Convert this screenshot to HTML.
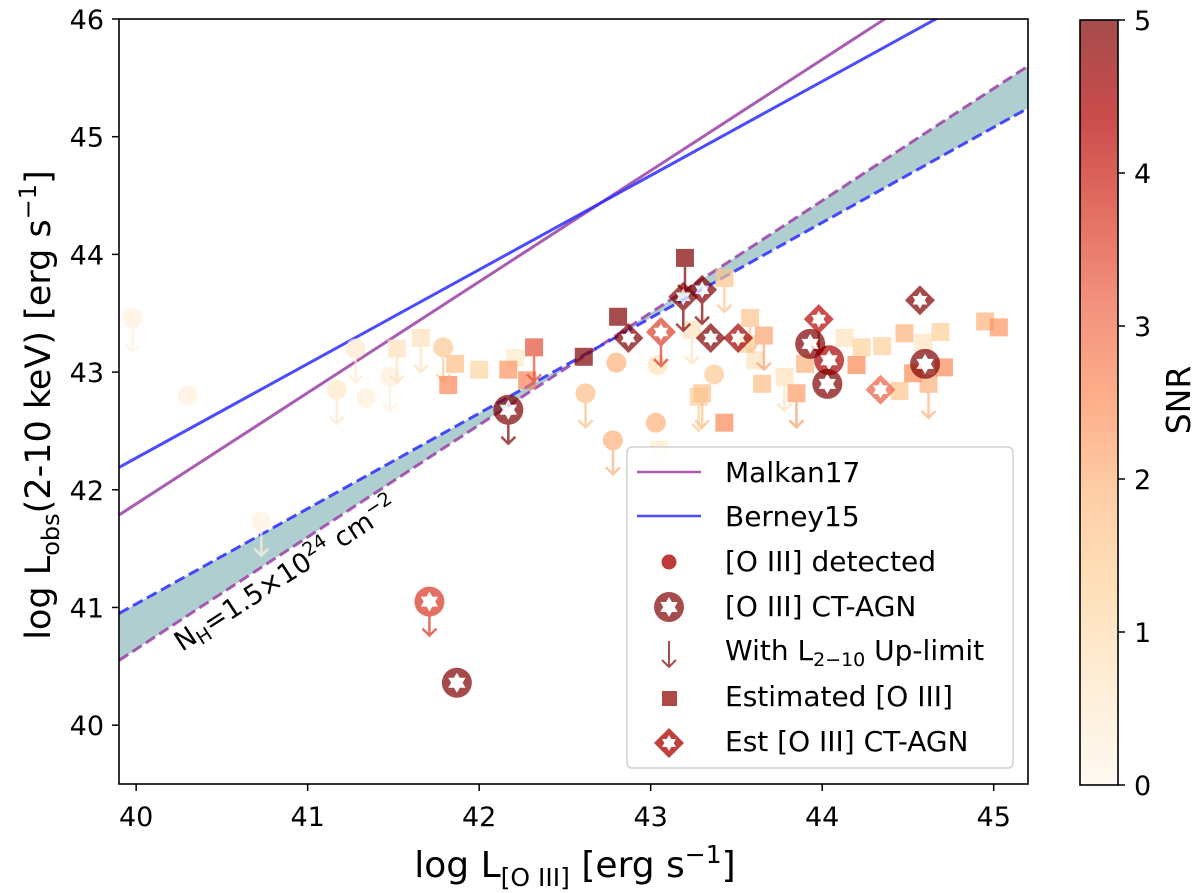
<!DOCTYPE html>
<html><head><meta charset="utf-8"><style>
html,body{margin:0;padding:0;background:#fff;}
svg{display:block;font-family:"DejaVu Sans","Liberation Sans",sans-serif;}
</style></head><body>
<svg id="chart" width="1200" height="893" viewBox="0 0 1200 893">
<defs>
<clipPath id="clip"><rect x="119" y="19" width="909" height="765"/></clipPath>
<linearGradient id="cbgrad" x1="0" y1="1" x2="0" y2="0">
<stop offset="0" stop-color="#fff7ec"/><stop offset="0.125" stop-color="#fee8c8"/>
<stop offset="0.25" stop-color="#fdd49e"/><stop offset="0.375" stop-color="#fdbb84"/>
<stop offset="0.5" stop-color="#fc8d59"/><stop offset="0.625" stop-color="#ef6548"/>
<stop offset="0.75" stop-color="#d7301f"/><stop offset="0.875" stop-color="#b30000"/>
<stop offset="1" stop-color="#7f0000"/>
</linearGradient>
</defs>
<g id="lines" clip-path="url(#clip)"></g>
<g id="points" clip-path="url(#clip)"></g>
<rect x="119" y="19" width="909" height="765" fill="none" stroke="#000" stroke-width="1.6"/>
<g id="axes"></g>
<text x="182" y="652" font-size="27" transform="rotate(-33 182 652)">N<tspan font-size="19" dy="5">H</tspan><tspan dy="-5">=1.5×10</tspan><tspan font-size="19" dy="-11">24</tspan><tspan dy="11"> cm</tspan><tspan font-size="19" dy="-11">−2</tspan></text>
<text x="575" y="877" font-size="36" text-anchor="middle">log L<tspan font-size="25" dy="9">[O III]</tspan><tspan dy="-9"> [erg s</tspan><tspan font-size="25" dy="-14">−1</tspan><tspan dy="14">]</tspan></text>
<text x="0" y="0" font-size="35" text-anchor="middle" transform="translate(50 405) rotate(-90)">log L<tspan font-size="24" dy="9">obs</tspan><tspan dy="-9">(2-10 keV) [erg s</tspan><tspan font-size="24" dy="-14">−1</tspan><tspan dy="14">]</tspan></text>
<g>
<rect x="627" y="447" width="386" height="321" rx="5" fill="#fff" fill-opacity="0.85" stroke="#d0d0d0" stroke-width="1.5"/>
<line x1="637" y1="472" x2="701" y2="472" stroke="#9b3fa6" stroke-width="2.5" stroke-opacity="0.85"/>
<line x1="637" y1="516" x2="701" y2="516" stroke="#2b2bff" stroke-width="2.5" stroke-opacity="0.85"/>
<circle cx="669" cy="562" r="7.5" fill="#c0393b"/>
<circle cx="669" cy="607" r="15" fill="#a54c4c"/>
<path d="M669 597 L677.7 612 L660.3 612Z M669 617 L660.3 602 L677.7 602Z" fill="#fff"/>
<path d="M669 641 V667 M662 660 L669 667 L676 660" stroke="#a54c4c" stroke-width="2" fill="none"/>
<rect x="662" y="691" width="15" height="15" fill="#b04848"/>
<path d="M669 728 L684 743 L669 758 L654 743Z" fill="#c0403c"/>
<path d="M669 735 L676 747 L662 747Z M669 751 L662 739 L676 739Z" fill="#fff"/>
<g font-size="28" fill="#000">
<text x="725" y="482">Malkan17</text>
<text x="725" y="526">Berney15</text>
<text x="725" y="571">[O III] detected</text>
<text x="725" y="616">[O III] CT-AGN</text>
<text x="725" y="660">With L<tspan font-size="19" dy="6">2−10</tspan><tspan dy="-6"> Up-limit</tspan></text>
<text x="725" y="706">Estimated [O III]</text>
<text x="725" y="751">Est [O III] CT-AGN</text>
</g>
</g>
<g>
<rect x="1080" y="20" width="38" height="765" fill="url(#cbgrad)" fill-opacity="0.7" stroke="#000" stroke-width="1.6"/>
<g id="cbticks"></g>
<text x="0" y="0" font-size="33" text-anchor="middle" transform="translate(1190 400) rotate(-90)">SNR</text>
</g>
</svg>
<script>
const xTicks = [40, 41, 42, 43, 44, 45];
const yTicks = [40, 41, 42, 43, 44, 45, 46];
const cbTicks = [0, 1, 2, 3, 4, 5];
// relations: y = a + b*(x-40)
const relIntercepts = [41.88, 42.27, 40.645, 41.03];
const relSlopes = [0.944, 0.80, 0.953, 0.81];
// point data
const ptX = [39.98,40.30,41.28,41.17,41.34,41.48,41.52,41.66,41.79,41.86,41.82,42.00,42.17,42.21,42.28,42.32,40.73,
 43.20,42.81,42.61,42.80,43.04,43.37,42.62,43.03,42.78,43.43,43.58,43.66,43.24,43.61,43.65,43.78,43.90,43.85,43.28,43.30,43.43,43.05,44.13,44.23,44.35,44.20,44.48,44.59,44.69,44.71,44.53,44.62,44.45,44.95,45.03,43.56,
 42.17,41.71,41.87,43.93,44.04,44.03,44.60,
 43.19,43.30,42.87,43.06,43.35,43.51,43.98,44.57,44.34];
const ptY = [43.46,42.80,43.20,42.85,42.78,42.96,43.20,43.29,43.21,43.07,42.89,43.02,43.02,43.12,42.93,43.21,41.73,
 43.97,43.47,43.13,43.08,43.06,42.98,42.82,42.57,42.42,43.80,43.46,43.31,43.36,43.10,42.90,42.96,43.07,42.82,42.79,42.82,42.57,42.34,43.29,43.21,43.22,43.06,43.33,43.25,43.34,43.04,42.99,42.90,42.84,43.43,43.38,43.24,
 42.68,41.05,40.36,43.24,43.10,42.90,43.07,
 43.64,43.70,43.29,43.34,43.29,43.29,43.45,43.61,42.85];
const ptSNR = [0.3,0.3,0.5,0.6,0.3,0.3,0.8,0.8,1.5,1.8,2.6,1.2,2.4,0.6,2.7,3.4,0.2,
 5,5,5,2,0.8,1.5,1.8,2,2,1.6,1.6,2.2,0.8,0.8,1.8,0.8,2,2.3,1.4,1.7,2.6,0.6,0.8,1.3,1.4,2.6,2,0.8,1.4,2.6,2.5,2,1.6,2,2.4,1.3,
 5,3.7,5,5,4.5,5,5,
 5,5,5,3.6,5,4.6,4.3,5,3.2];
// 0 circle, 1 square, 2 CT circle, 3 CT diamond
const ptType = [0,0,0,0,0,0,1,1,0,1,1,1,1,1,1,1,0,
 1,1,1,0,0,0,0,0,0,1,1,1,1,1,1,1,1,1,1,1,1,1,1,1,1,1,1,1,1,1,1,1,1,1,1,1,
 2,2,2,2,2,2,2,
 3,3,3,3,3,3,3,3,3];
const ptLimit = [1,0,1,1,0,1,1,1,1,0,0,0,0,0,0,1,1,
 1,0,0,0,0,0,1,0,1,1,1,1,1,0,0,1,0,1,1,1,0,0,0,0,0,0,0,0,0,0,0,1,0,0,0,0,
 1,1,0,0,0,0,0,
 1,1,0,1,0,0,1,0,0];

const X0=39.9,X1=45.2,PX0=119,PX1=1028,Y0=39.5,Y1=46,PY0=784,PY1=19;
const sx = v => PX0 + (v-X0)/(X1-X0)*(PX1-PX0);
const sy = v => PY0 - (v-Y0)/(Y1-Y0)*(PY0-PY1);
const NS='http://www.w3.org/2000/svg';
function mk(tag, attrs, parent){const e=document.createElementNS(NS,tag);for(const k in attrs)e.setAttribute(k,attrs[k]);parent.appendChild(e);return e;}
const stops=[[255,247,236],[254,232,200],[253,212,158],[253,187,132],[252,141,89],[239,101,72],[215,48,31],[179,0,0],[127,0,0]];
function cmap(s){let t=Math.max(0,Math.min(1,s/5))*8;let i=Math.min(7,Math.floor(t));let f=t-i;const a=stops[i],b=stops[i+1];
 return 'rgb('+a.map((c,k)=>Math.round(c+(b[k]-c)*f)).join(',')+')';}

const axes=document.getElementById('axes');
xTicks.forEach(v=>{
 const t=mk('line',{x1:sx(v),x2:sx(v),y1:784,y2:791,stroke:'#000','stroke-width':1.5},axes);
 
 
 const l=mk('text',{x:sx(v),y:826,'font-size':27,'text-anchor':'middle'},axes);l.textContent=v;
 
 
});
yTicks.forEach(v=>{
 const t=mk('line',{x1:112,x2:119,y1:sy(v),y2:sy(v),stroke:'#000','stroke-width':1.5},axes);
 
 
 const l=mk('text',{x:104,y:sy(v)+10,'font-size':27,'text-anchor':'end'},axes);l.textContent=v;
 
 
});
const cbt=document.getElementById('cbticks');
cbTicks.forEach(v=>{
 const y=785-v/5*765;
 const t=mk('line',{x1:1118,x2:1125,y1:y,y2:y,stroke:'#000','stroke-width':1.5},cbt);
 
 
 const l=mk('text',{x:1134,y:y+10,'font-size':27},cbt);l.textContent=v;
 
 
});

const lg=document.getElementById('lines');
const ry=(i,x)=>relIntercepts[i]+relSlopes[i]*(x-40);
const band=mk('polygon',{points:[[sx(X0),sy(ry(2,X0))],[sx(X1),sy(ry(2,X1))],[sx(X1),sy(ry(3,X1))],[sx(X0),sy(ry(3,X0))]].map(p=>p.join(',')).join(' '),fill:'#5f9ea0','fill-opacity':0.5},lg);


const relColors=['#9b3fa6','#2b2bff','#9b3fa6','#2b2bff'];
const relNames=['malkan17-line','berney15-line','malkan17-ct-dashed','berney15-ct-dashed'];
for(let i=0;i<4;i++){
 const l=mk('line',{x1:sx(X0),y1:sy(ry(i,X0)),x2:sx(X1),y2:sy(ry(i,X1)),stroke:relColors[i],'stroke-width':3,'stroke-opacity':0.85},lg);
 if(i>=2) l.setAttribute('stroke-dasharray','11 5');
 
 
}

const pg=document.getElementById('points');
function star(cx,cy,r){return `M${cx} ${cy-r} L${cx+r*0.866} ${cy+r/2} L${cx-r*0.866} ${cy+r/2}Z M${cx} ${cy+r} L${cx-r*0.866} ${cy-r/2} L${cx+r*0.866} ${cy-r/2}Z`;}
const order=ptX.map((_,i)=>i).sort((a,b)=>ptSNR[a]-ptSNR[b]);
order.forEach(i=>{
 const cx=sx(ptX[i]),cy=sy(ptY[i]),c=cmap(ptSNR[i]);
 const g=mk('g',{opacity:0.7},pg);
 
 
 if(ptLimit[i]){mk('path',{d:`M${cx} ${cy} V${cy+34} M${cx-7} ${cy+27} L${cx} ${cy+34} L${cx+7} ${cy+27}`,stroke:c,'stroke-width':2.5,fill:'none'},g);}
 const t=ptType[i];
 if(t===0) mk('circle',{cx,cy,r:10,fill:c},g);
 else if(t===1) mk('rect',{x:cx-9,y:cy-9,width:18,height:18,fill:c},g);
 else if(t===2){mk('circle',{cx,cy,r:15,fill:c},g);mk('path',{d:star(cx,cy,10),fill:'#fff','fill-rule':'nonzero'},g);}
 else {mk('path',{d:`M${cx} ${cy-15} L${cx+15} ${cy} L${cx} ${cy+15} L${cx-15} ${cy}Z`,fill:c},g);mk('path',{d:star(cx,cy,8.5),fill:'#fff','fill-rule':'nonzero'},g);}
});
</script>
</body></html>
